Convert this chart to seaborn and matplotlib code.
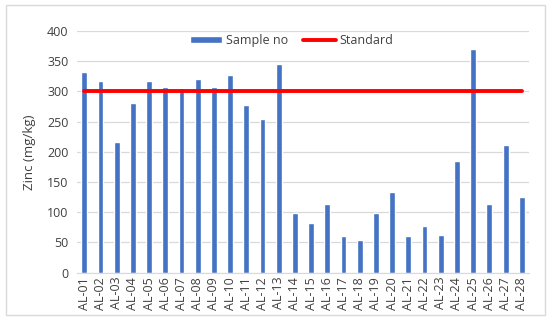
import matplotlib
matplotlib.use("Agg")
import matplotlib.pyplot as plt
from matplotlib.patches import Rectangle
import seaborn as sns
import pandas as pd

# values
samples = ["AL-%02d" % i for i in range(1, 29)]
zinc = [333, 318, 217, 281, 318, 308, 305, 320, 308, 328, 278, 255, 345, 99,
        83, 114, 61, 54, 99, 134, 60, 77, 63, 185, 370, 114, 211, 125]
standard = [300] * len(samples)

df = pd.DataFrame({"sample": samples, "zinc": zinc, "standard": standard})

sns.set_style("white")
plt.rcParams["font.family"] = ["Open Sans", "DejaVu Sans"]

fig = plt.figure(figsize=(5.5, 3.2), dpi=100)
ax = fig.add_axes([0.14, 0.148, 0.822, 0.755])

sns.barplot(data=df, x="sample", y="zinc", color="#4472C4", saturation=1,
            width=0.36, ax=ax)
line, = ax.plot(df["sample"], df["standard"], color="#FF0000", lw=2.8)

ax.set_ylim(0, 400)
ax.set_yticks(range(0, 401, 50))
ax.set_xlim(-0.45, 27.45)
ax.yaxis.grid(True, color="#D9D9D9", lw=0.9)
ax.set_axisbelow(True)
for s in ["top", "right", "left"]:
    ax.spines[s].set_visible(False)
ax.spines["bottom"].set_color("#D9D9D9")
ax.tick_params(axis="x", rotation=90, labelsize=9, colors="#404040", length=0, pad=3)
ax.tick_params(axis="y", labelsize=9, colors="#404040", length=0, pad=6)
ax.set_xlabel("")
ax.set_ylabel("Zinc (mg/kg)", fontsize=9.5, color="#404040", labelpad=8)

bar_handle = Rectangle((0, 0), 1, 1, facecolor="#4472C4")
leg = ax.legend([bar_handle, line], ["Sample no", "Standard"],
                loc="upper center", bbox_to_anchor=(0.475, 1.035), ncol=2, frameon=False,
                fontsize=9, handlelength=2.6, handleheight=0.45,
                columnspacing=1.2, handletextpad=0.3)
for t in leg.get_texts():
    t.set_color("#404040")

fig.patches.append(Rectangle((0.01, 0.015), 0.98, 0.97, transform=fig.transFigure,
                             fill=False, edgecolor="#D9D9D9", lw=1))

fig.savefig("out.png", dpi=100)
